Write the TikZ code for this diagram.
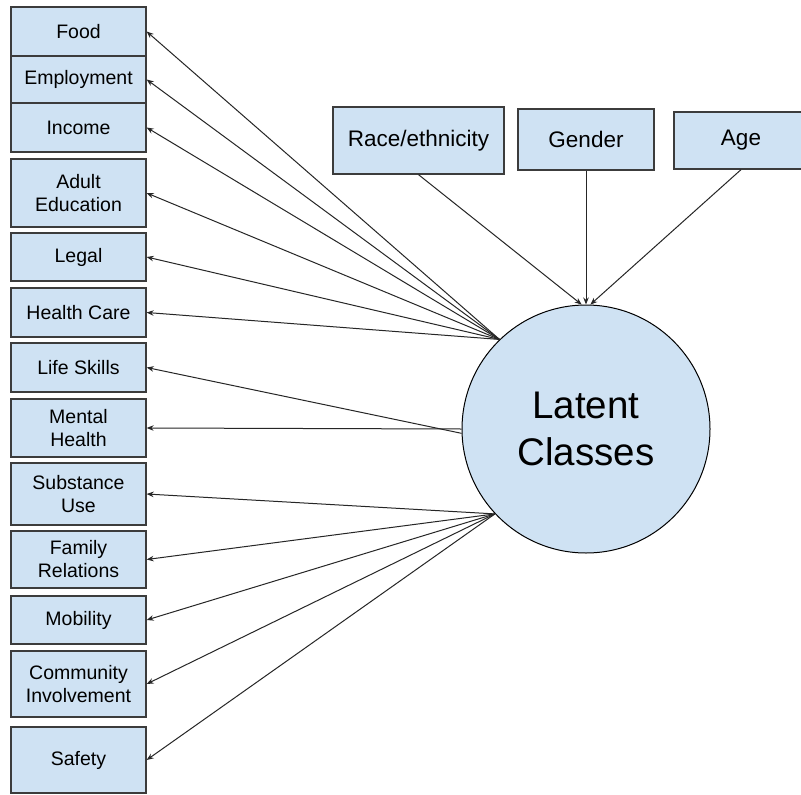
\documentclass[tikz,border=0pt]{standalone}
\usepackage{fontspec}
\setmainfont{Liberation Sans}
\usetikzlibrary{arrows.meta}
\definecolor{boxfill}{HTML}{CFE2F3}
\definecolor{boxline}{HTML}{3C3C3C}
\definecolor{arrline}{HTML}{262626}
\begin{document}
\begin{tikzpicture}[x=1pt,y=-1pt,
  lbox/.style={draw=boxline,line width=1.3pt,fill=boxfill,inner sep=0pt,
    minimum width=135pt,align=center,font=\fontsize{19.5}{23}\selectfont},
  tbox/.style={draw=boxline,line width=1.3pt,fill=boxfill,inner sep=0pt,
    align=center,font=\fontsize{22.5}{27}\selectfont},
  circ/.style={circle,draw=black,line width=1pt,fill=boxfill,inner sep=0pt,
    minimum size=248pt,align=center,font=\fontsize{38.5}{47}\selectfont},
  arr/.style={draw=arrline,line width=1pt,-{Stealth[length=7pt,width=5.5pt]}}]
\useasboundingbox (0,0) rectangle (801,795);
\fill[white] (0,0) rectangle (801,795);
% left boxes
\node[lbox,minimum height=49pt] (food) at (78.5,31.5) {Food};
\node[lbox,minimum height=47pt] (emp) at (78.5,79.5) {Employment};
\node[lbox,minimum height=49pt] (inc) at (78.5,127.5) {Income};
\node[lbox,minimum height=68pt] (adu) at (78.5,193) {Adult\\Education};
\node[lbox,minimum height=48pt] (leg) at (78.5,257) {Legal};
\node[lbox,minimum height=49pt] (hea) at (78.5,312.5) {Health Care};
\node[lbox,minimum height=49pt] (lif) at (78.5,367.5) {Life Skills};
\node[lbox,minimum height=58pt] (men) at (78.5,428) {Mental\\Health};
\node[lbox,minimum height=62pt] (sub) at (78.5,494) {Substance\\Use};
\node[lbox,minimum height=57pt] (fam) at (78.5,559.5) {Family\\Relations};
\node[lbox,minimum height=48pt] (mob) at (78.5,620) {Mobility};
\node[lbox,minimum height=66pt] (com) at (78.5,684) {Community\\Involvement};
\node[lbox,minimum height=66pt] (saf) at (78.5,760) {Safety};
% top boxes
\node[tbox,minimum width=171pt,minimum height=67pt] (race) at (418.5,140.5) {Race/ethnicity};
\node[tbox,minimum width=136pt,minimum height=61pt] (gen) at (586,139.5) {Gender};
\node[tbox,minimum width=134pt,minimum height=57pt] (age) at (741,140.5) {Age};
% circle
\node[circ] (lc) at (586,429) {Latent\\Classes};
% arrows from covariates
\draw[arr] (race.south) -- (lc.92);
\draw[arr] (gen.south) -- (lc.90);
\draw[arr] (age.south) -- (lc.88);
% arrows to indicators
\coordinate (up) at (lc.134);
\coordinate (mid) at (lc.180);
\coordinate (lo) at (lc.-137);
\foreach \b in {food,emp,inc,adu,leg,hea} \draw[arr] (up) -- (\b.east);
\draw[arr] (lc.182) -- (lif.east);
\draw[arr] (mid) -- (men.east);
\foreach \b in {sub,fam,mob,com,saf} \draw[arr] (lo) -- (\b.east);
\end{tikzpicture}
\end{document}
